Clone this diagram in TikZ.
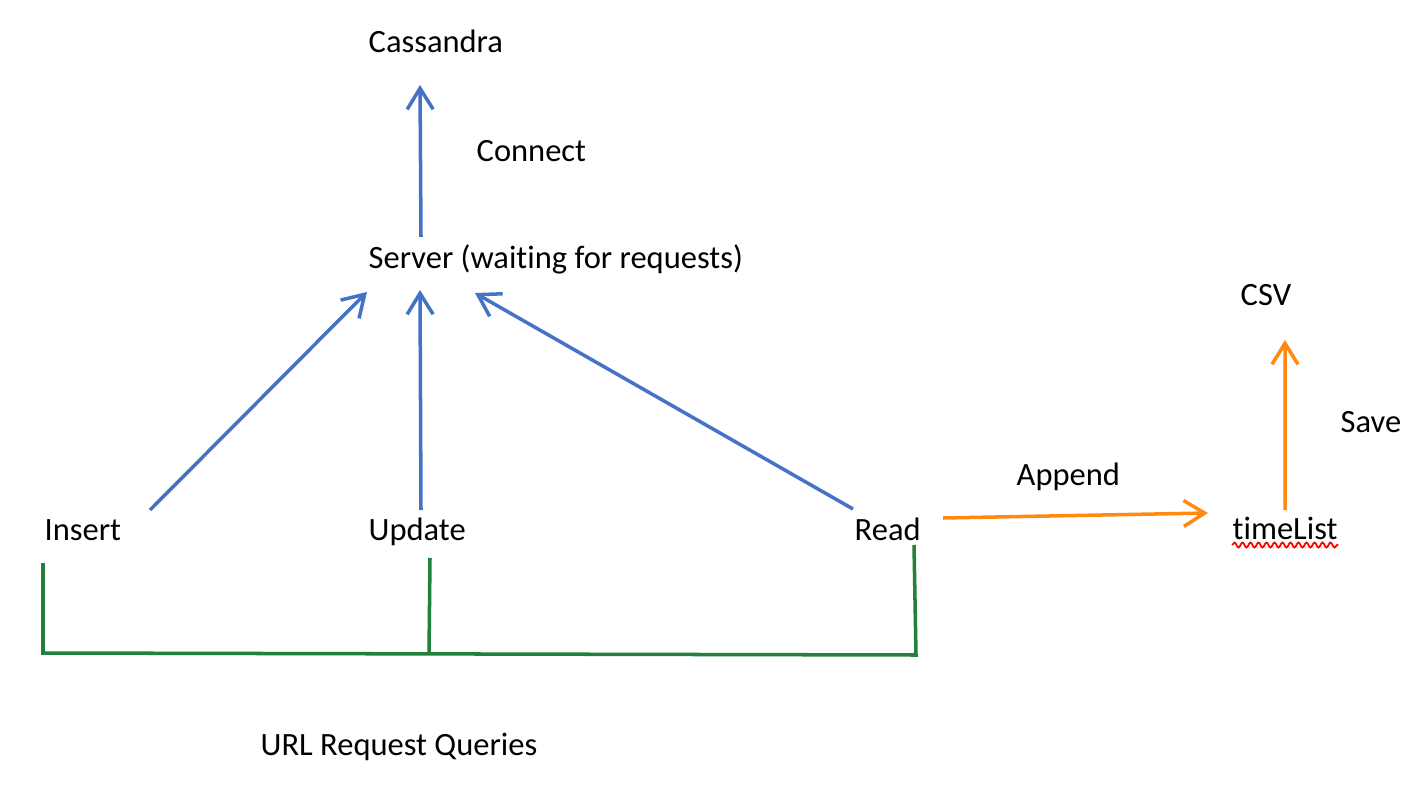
\documentclass[tikz,border=0pt]{standalone}
\usepackage{fontspec}
\setmainfont{Carlito}[Ligatures={CommonOff,ContextualOff}, Contextuals=ResetAll, RawFeature={-liga;-clig;-calt}]
\usepackage{xcolor}
\usepackage{tikz}
\usetikzlibrary{positioning,arrows.meta,decorations.pathmorphing}

\definecolor{lineblue}{HTML}{4472C4}
\definecolor{lineorange}{HTML}{FF8A12}
\definecolor{linegreen}{HTML}{23803A}

\begin{document}
\begin{tikzpicture}[>={Straight Barb[length=2.1mm,width=2.6mm]},
  every node/.style={inner sep=0pt, anchor=base west, font=\fontsize{9.25}{11}\selectfont},
  bluearrow/.style={->, draw=lineblue, line width=1pt},
  orangearrow/.style={->, draw=lineorange, line width=1pt},
  bracket/.style={draw=linegreen, line width=1pt}]
\useasboundingbox (0,0) rectangle (14.2,-7.97);

% top nodes
\node (Cassandra) at (3.68,-0.53) {Cassandra};
\node (Connect) at (4.76,-1.62) {Connect};
\node (Server) at (3.68,-2.69) {Server (waiting for requests)};

% request nodes
\node (Insert) at (0.44,-5.40) {Insert};
\node (Update) at (3.68,-5.40) {Update};
\node (Read) at (8.54,-5.40) {Read};
\node (Queries) at (2.60,-7.55) {URL Request Queries};

% right side
\node (Append) at (10.16,-4.85) {Append};
\node (timeList) at (12.32,-5.39) {timeList};
\node (Save) at (13.40,-4.32) {Save};
\node (CSV) at (12.40,-3.05) {CSV};

% blue arrows
\draw[bluearrow] ([shift={(0.53,0.32)}]Server.base west) -- ([shift={(0.52,-0.32)}]Cassandra.base west);
\draw[bluearrow] ([shift={(1.06,0.30)}]Insert.base west) -- ([shift={(-0.01,-0.23)}]Server.base west);
\draw[bluearrow] ([shift={(0.53,0.30)}]Update.base west) -- ([shift={(0.52,-0.21)}]Server.base west);
\draw[bluearrow] ([shift={(-0.01,0.31)}]Read.base west) -- ([shift={(1.07,-0.24)}]Server.base west);

% orange arrows
\draw[orangearrow] ([shift={(0.89,0.22)}]Read.base west) -- ([shift={(-0.24,0.26)}]timeList.base west);
\draw[orangearrow] ([shift={(0.53,0.29)}]timeList.base west) -- ([shift={(0.45,-0.35)}]CSV.base west);

% spelling mark
\draw[red, line width=0.5pt, decorate, decoration={snake, amplitude=0.25mm, segment length=0.8mm}]
  ([yshift=-0.06cm]timeList.base west) -- ([yshift=-0.06cm]timeList.base east);

% green bracket
\coordinate (qL) at (0.43,-6.53);
\coordinate (qM) at (4.29,-6.54);
\coordinate (qR) at (9.16,-6.55);
\draw[bracket] ([shift={(-0.01,-0.23)}]Insert.base west) -- (qL) -- (qR) -- ([shift={(0.60,-0.05)}]Read.base west);
\draw[bracket] ([shift={(0.62,-0.18)}]Update.base west) -- (qM);
\end{tikzpicture}
\end{document}
